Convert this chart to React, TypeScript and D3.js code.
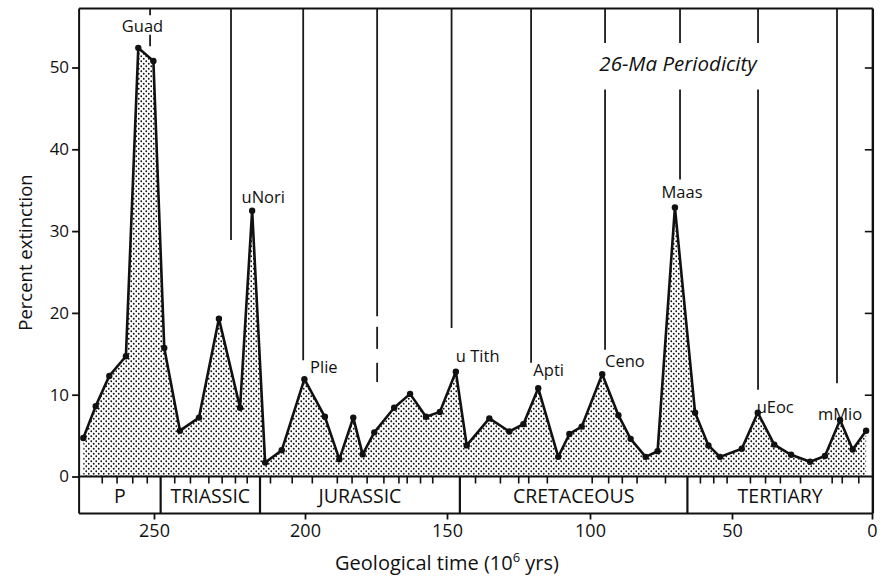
import React, { useEffect, useRef } from "react";
import * as d3 from "d3";

// stage ages (Ma) and percent extinction of families
const ages = [273.4, 269.3, 264.8, 259.3, 255.2, 250.2, 246.6, 241.4, 235.1, 228.5,
  221.5, 217.5, 213.2, 207.7, 200.2, 193.0, 187.9, 183.0, 179.7, 175.6,
  168.6, 163.0, 157.4, 152.5, 146.9, 143.1, 135.2, 128.2, 123.3, 118.1,
  111.1, 107.2, 102.9, 95.7, 90.0, 85.7, 80.4, 76.2, 70.1, 63.0,
  58.3, 54.2, 46.5, 40.8, 34.9, 28.9, 22.1, 16.8, 11.4, 6.9, 2.1];
const extinction = [4.7, 8.6, 12.3, 14.7, 52.4, 50.8, 15.7, 5.6, 7.2, 19.3,
  8.4, 32.5, 1.7, 3.2, 11.9, 7.3, 2.1, 7.2, 2.7, 5.4,
  8.4, 10.1, 7.3, 7.9, 12.8, 3.8, 7.1, 5.5, 6.4, 10.8,
  2.4, 5.2, 6.1, 12.5, 7.5, 4.6, 2.4, 3.1, 32.9, 7.8,
  3.8, 2.4, 3.4, 7.8, 3.9, 2.65, 1.8, 2.5, 6.9, 3.3, 5.6];

const xTicks = [250, 200, 150, 100, 50, 0];
const yTicks = [0, 10, 20, 30, 40, 50];

// geological periods
const periodNames = ["P", "TRIASSIC", "JURASSIC", "CRETACEOUS", "TERTIARY"];
const periodBounds = [274.8, 247.8, 214.9, 145.5, 65.7, -0.3];

// stage boundary ticks in the period strip
const stageTicks = [267.3, 262.4, 257.2, 252.4, 243.3, 238.1, 232, 227.6, 223.2, 219.3,
  211.6, 204.4, 197.6, 188.8, 183.6, 178.3, 172.4, 167.1, 164.2, 159.5, 155.2,
  140.2, 131.5, 125.1, 121.6, 115.1, 99.4, 93.6, 88.8, 83.6, 73.6, 61.3, 56.6, 51.9,
  43.6, 38.2, 32.9, 25.7, 14.4, 10.8, 4.9];

// 26-Ma periodicity lines: age and drawn pieces (percent from, percent to)
const cycleAges = [251.3, 224.5, 200.6, 174.6, 148.4, 120.6, 94.7, 68.3, 40.7, 12.5];
const cyclePieces = [
  [[57.2, 56.4], [54.0, 52.6]],
  [[57.2, 28.9]],
  [[57.2, 14.2]],
  [[57.2, 19.6], [18.3, 15.6], [13.9, 11.55]],
  [[57.2, 18.15]],
  [[57.2, 13.9]],
  [[57.2, 53.0], [47.3, 15.5]],
  [[57.2, 53.0], [47.3, 36.3]],
  [[57.2, 53.0], [47.3, 10.6]],
  [[57.2, 11.4]],
];

// peak labels
const peakNames = ["Guad", "uNori", "Plie", "u Tith", "Apti", "Ceno", "Maas", "uEoc", "mMio"];
const peakLabelAge = [253.8, 221, 198.2, 146.9, 119.8, 94.7, 67.6, 41.2, 19.3];
const peakLabelValue = [54.3, 33.4, 12.65, 14.0, 12.3, 13.4, 34.0, 7.75, 6.9];
const peakAnchor = ["middle", "start", "start", "start", "start", "start", "middle", "start", "start"];

const yTop = 57.2;

export default function App() {
  const ref = useRef<SVGSVGElement>(null);

  useEffect(() => {
    const svg = d3.select(ref.current);
    svg.selectAll("*").remove();

    const font = "'Open Sans', Lato, sans-serif";

    const x = d3.scaleLinear().domain(xTicks).range([154, 305, 447, 590, 732, 872]);
    const y = d3.scaleLinear().domain([0, 50]).range([476.5, 67.5]);

    const left = x(periodBounds[0]);
    const right = x(periodBounds[periodBounds.length - 1]);
    const top = y(yTop);
    const zero = y(0);
    const stripBottom = zero + 37;

    // stipple pattern
    const defs = svg.append("defs");
    const pat = defs.append("pattern")
      .attr("id", "stipple")
      .attr("patternUnits", "userSpaceOnUse")
      .attr("width", 5)
      .attr("height", 5);
    pat.append("circle").attr("cx", 1.25).attr("cy", 1.25).attr("r", 0.9).attr("fill", "#111");
    pat.append("circle").attr("cx", 3.75).attr("cy", 3.75).attr("r", 0.9).attr("fill", "#111");

    const data = ages.map((a, i) => ({ age: a, value: extinction[i] }));

    // filled area
    const area = d3.area<{ age: number; value: number }>()
      .x(d => x(d.age))
      .y0(zero)
      .y1(d => y(d.value));
    svg.append("path")
      .datum(data)
      .attr("d", area)
      .attr("fill", "url(#stipple)");

    // periodicity lines
    cycleAges.forEach((a, i) => {
      cyclePieces[i].forEach(p => {
        svg.append("line")
          .attr("x1", x(a)).attr("x2", x(a))
          .attr("y1", y(p[0])).attr("y2", y(p[1]))
          .attr("stroke", "#1a1a1a")
          .attr("stroke-width", 1.8);
      });
    });

    // data line + points
    const line = d3.line<{ age: number; value: number }>()
      .x(d => x(d.age))
      .y(d => y(d.value));
    svg.append("path")
      .datum(data)
      .attr("d", line)
      .attr("fill", "none")
      .attr("stroke", "#111")
      .attr("stroke-width", 2.6)
      .attr("stroke-linejoin", "round");
    svg.selectAll(".pt")
      .data(data)
      .join("circle")
      .attr("cx", d => x(d.age))
      .attr("cy", d => y(d.value))
      .attr("r", 3.2)
      .attr("fill", "#111");

    // frame
    const frame = svg.append("g").attr("stroke", "#111").attr("fill", "none");
    frame.append("line").attr("x1", left).attr("x2", right).attr("y1", top).attr("y2", top).attr("stroke-width", 2);
    frame.append("line").attr("x1", left).attr("x2", left).attr("y1", top).attr("y2", stripBottom).attr("stroke-width", 2);
    frame.append("line").attr("x1", right).attr("x2", right).attr("y1", top).attr("y2", stripBottom).attr("stroke-width", 2.4);
    frame.append("line").attr("x1", left).attr("x2", right).attr("y1", zero).attr("y2", zero).attr("stroke-width", 2);
    frame.append("line").attr("x1", left).attr("x2", right).attr("y1", stripBottom).attr("y2", stripBottom).attr("stroke-width", 2);

    // period strip
    periodBounds.slice(1, -1).forEach(b => {
      frame.append("line")
        .attr("x1", x(b)).attr("x2", x(b))
        .attr("y1", zero).attr("y2", stripBottom)
        .attr("stroke-width", 2.2);
    });
    periodNames.forEach((n, i) => {
      svg.append("text")
        .attr("x", (x(periodBounds[i]) + x(periodBounds[i + 1])) / 2)
        .attr("y", zero + 26)
        .attr("text-anchor", "middle")
        .attr("font-family", font)
        .attr("font-size", 19.5)
        .attr("fill", "#111")
        .text(n);
    });

    // stage ticks
    const stage = svg.append("g")
      .attr("transform", `translate(0,${zero})`)
      .call(d3.axisBottom(x).tickValues(stageTicks).tickSize(7).tickFormat(() => ""));
    stage.select(".domain").remove();
    stage.selectAll("line").attr("stroke", "#111").attr("stroke-width", 1.6);

    // x axis
    const xa = svg.append("g")
      .attr("transform", `translate(0,${stripBottom})`)
      .call(d3.axisBottom(x).tickValues(xTicks).tickSize(6).tickPadding(5).tickFormat(d3.format("d")));
    xa.select(".domain").remove();
    xa.selectAll("line").attr("stroke", "#111").attr("stroke-width", 1.8);
    xa.selectAll("text").attr("font-family", font).attr("font-size", 18).attr("fill", "#111");

    // y axis
    const ya = svg.append("g")
      .attr("transform", `translate(${left},0)`)
      .call(d3.axisLeft(y).tickValues(yTicks).tickSize(7).tickPadding(3));
    ya.select(".domain").remove();
    ya.selectAll("line").attr("stroke", "#111").attr("stroke-width", 1.8);
    ya.selectAll("text").attr("font-family", font).attr("font-size", 17).attr("fill", "#111");

    const yr = svg.append("g")
      .attr("transform", `translate(${right},0)`)
      .call(d3.axisLeft(y).tickValues(yTicks.slice(1)).tickSize(8).tickFormat(() => ""));
    yr.select(".domain").remove();
    yr.selectAll("line").attr("stroke", "#111").attr("stroke-width", 1.6);

    // peak labels
    peakNames.forEach((n, i) => {
      svg.append("text")
        .attr("x", x(peakLabelAge[i]))
        .attr("y", y(peakLabelValue[i]))
        .attr("text-anchor", peakAnchor[i])
        .attr("font-family", font)
        .attr("font-size", 16.5)
        .attr("fill", "#111")
        .text(n);
    });

    svg.append("text")
      .attr("x", x(69))
      .attr("y", y(49.6))
      .attr("text-anchor", "middle")
      .attr("font-family", font)
      .attr("font-style", "italic")
      .attr("font-size", 20.5)
      .attr("fill", "#111")
      .text("26-Ma Periodicity");

    // axis titles
    svg.append("text")
      .attr("transform", `translate(32,${(top + zero) / 2 + 10}) rotate(-90)`)
      .attr("text-anchor", "middle")
      .attr("font-family", font)
      .attr("font-size", 18.5)
      .attr("fill", "#111")
      .text("Percent extinction");

    const xt = svg.append("text")
      .attr("x", 447)
      .attr("y", 570)
      .attr("text-anchor", "middle")
      .attr("font-family", font)
      .attr("font-size", 20)
      .attr("fill", "#111");
    xt.append("tspan").text("Geological time (10");
    xt.append("tspan").attr("font-size", 13).attr("dy", -8).text("6");
    xt.append("tspan").attr("dy", 8).text(" yrs)");
  }, []);

  return (
    <div style={{ position: "absolute", left: 0, top: 0 }}>
      <svg ref={ref} width={884} height={579} style={{ display: "block", background: "#fff" }} />
    </div>
  );
}
